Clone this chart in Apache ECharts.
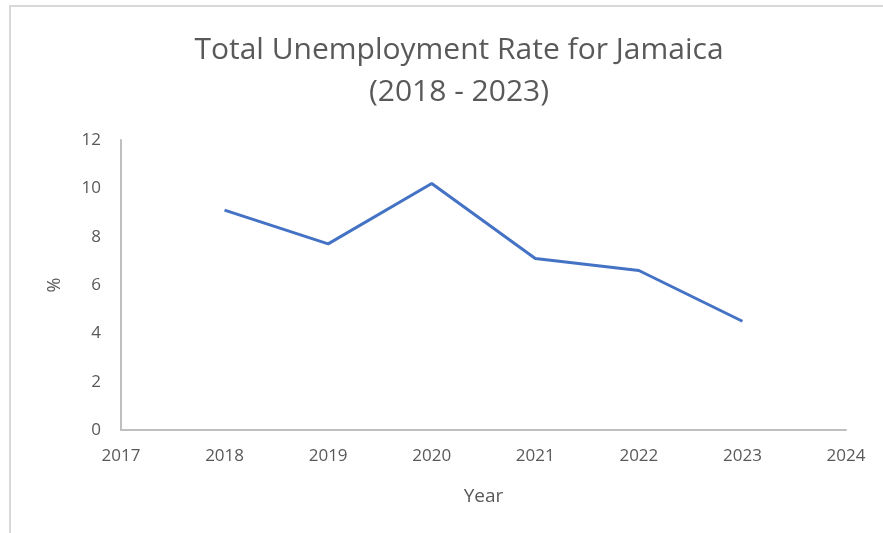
<!DOCTYPE html>
<html>
<head>
<meta charset="utf-8">
<script src="https://cdn.jsdelivr.net/npm/echarts@6/dist/echarts.min.js"></script>
<style>
    html, body { margin: 0; padding: 0; background: #fff; }
    .wrap {
        position: absolute; left: 9px; top: 5px; width: 874px; height: 528px;
        border-top: 2px solid #d9d9d9; border-left: 2px solid #d9d9d9;
        box-sizing: border-box;
    }
    #main { position: absolute; left: 0; top: 0; width: 883px; height: 533px; }
</style>
</head>
<body>
<div class="wrap"></div>
<div id="main"></div>
<script>
    // data
    var years = [2018, 2019, 2020, 2021, 2022, 2023];
    var rates = [9.1, 7.7, 10.2, 7.1, 6.6, 4.5];
    var titleLines = ['Total Unemployment Rate for Jamaica', '(2018 - 2023)'];

    var font = '"Open Sans", sans-serif';
    var myChart = echarts.init(document.getElementById('main'), null, { renderer: 'canvas' });
    var option = {
        animation: false,
        title: {
            text: titleLines.join('\n'),
            left: 454,
            textAlign: 'center',
            top: 24,
            textStyle: {
                color: '#595959',
                fontFamily: font,
                fontWeight: 'normal',
                fontSize: 30,
                lineHeight: 42
            }
        },
        grid: { left: 121, right: 37, top: 140, bottom: 103 },
        xAxis: {
            type: 'value',
            min: 2017,
            max: 2024,
            interval: 1,
            name: 'Year',
            nameLocation: 'middle',
            nameGap: 57,
            nameTextStyle: { color: '#595959', fontSize: 19, fontFamily: font },
            axisLine: { show: true, lineStyle: { color: '#bfbfbf', width: 2 } },
            axisTick: { show: false },
            splitLine: { show: false },
            axisLabel: {
                color: '#595959', fontSize: 17, fontFamily: font, margin: 18,
                formatter: function (v) { return String(v); }
            }
        },
        yAxis: {
            type: 'value',
            min: 0,
            max: 12,
            interval: 2,
            name: '%',
            nameLocation: 'middle',
            nameGap: 57,
            nameRotate: 90,
            nameTextStyle: { color: '#595959', fontSize: 18, fontFamily: font },
            axisLine: { show: true, lineStyle: { color: '#bfbfbf', width: 2 } },
            axisTick: { show: false },
            splitLine: { show: false },
            axisLabel: { color: '#595959', fontSize: 17, fontFamily: font, margin: 20 }
        },
        series: [
            {
                type: 'line',
                data: years.map(function (y, i) { return [y, rates[i]]; }),
                showSymbol: false,
                lineStyle: { color: '#4472C4', width: 3 },
                itemStyle: { color: '#4472C4' }
            }
        ]
    };
    myChart.setOption(option);
</script>
</body>
</html>
